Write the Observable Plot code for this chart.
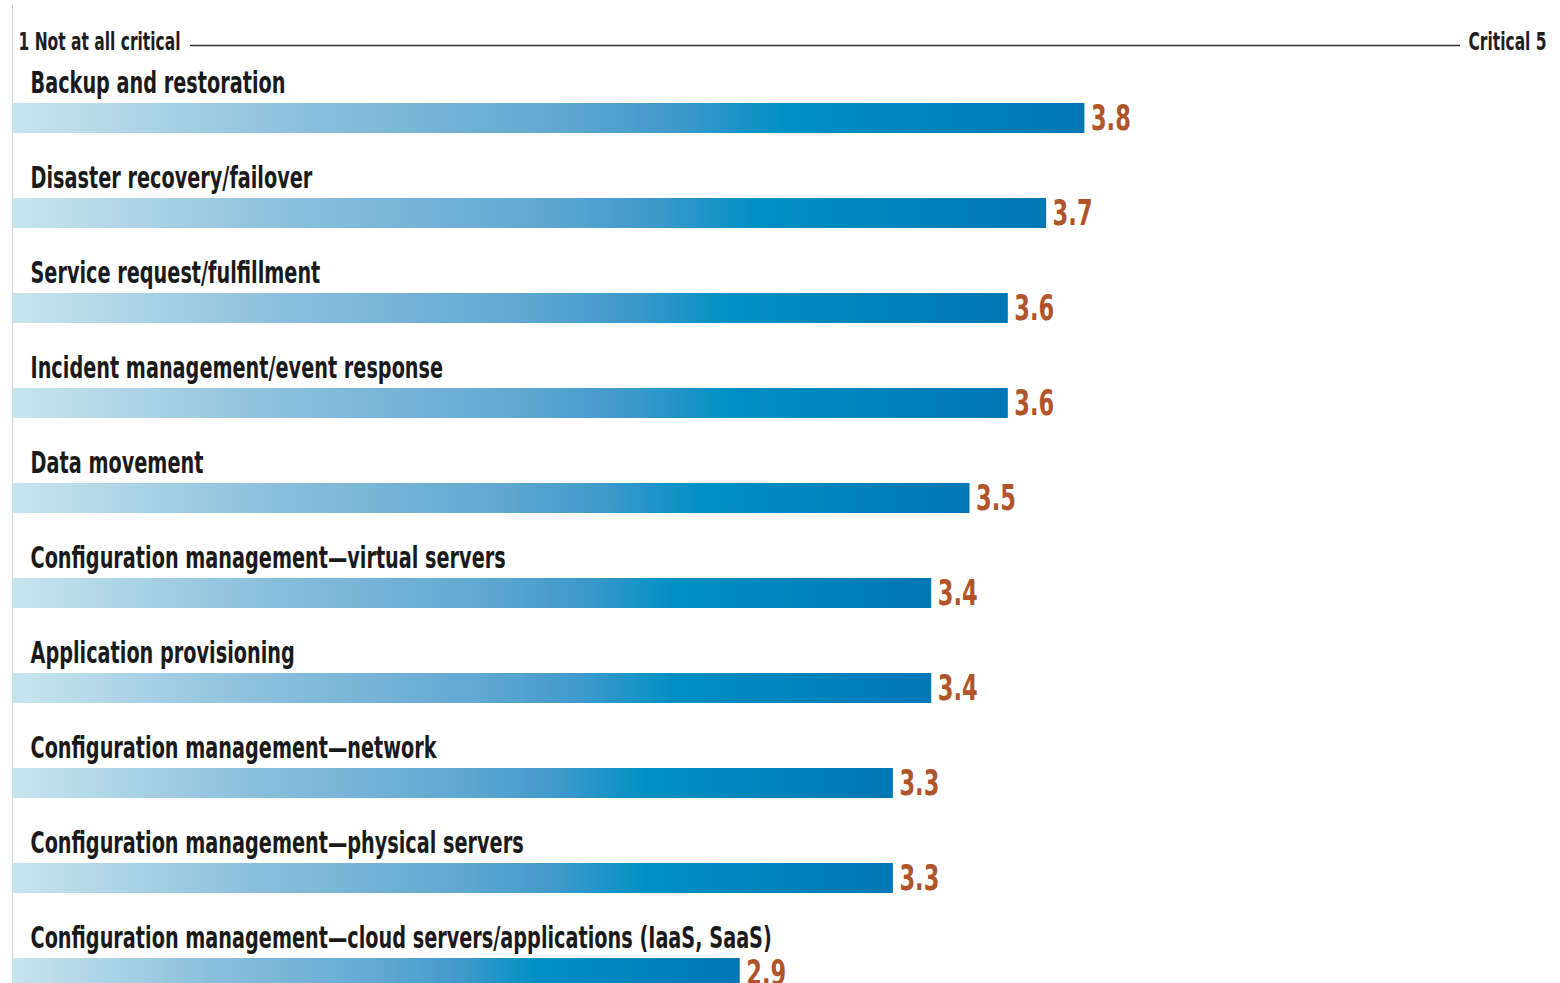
<!DOCTYPE html>
<html>
<head>
<meta charset="utf-8">
<script src="https://cdn.jsdelivr.net/npm/d3@7"></script>
<script src="https://cdn.jsdelivr.net/npm/@observablehq/plot@0.6"></script>
<style>
  html, body { margin: 0; padding: 0; background: #fff; overflow: hidden; }
  #chart svg { display: block; }
</style>
</head>
<body>
<div id="chart"></div>
<script>
const categories = [
  "Backup and restoration",
  "Disaster recovery/failover",
  "Service request/fulfillment",
  "Incident management/event response",
  "Data movement",
  "Configuration management\u2014virtual servers",
  "Application provisioning",
  "Configuration management\u2014network",
  "Configuration management\u2014physical servers",
  "Configuration management\u2014cloud servers/applications (IaaS, SaaS)"
];
const values = [3.8, 3.7, 3.6, 3.6, 3.5, 3.4, 3.4, 3.3, 3.3, 2.9];
const scaleMin = 1;
const scaleMax = 5;
const scaleLabels = ["1 Not at all critical", "Critical 5"];

const data = categories.map((c, i) => ({category: c, value: values[i]}));
const FONT = "'DejaVu Sans', sans-serif";
const W = 1560;

const startEnd = [{x: scaleMin, label: scaleLabels[0]}];
const finishEnd = [{x: scaleMax, label: scaleLabels[1]}];

const header = Plot.plot({
  width: W,
  height: 55,
  marginLeft: 12, marginRight: 16, marginTop: 0, marginBottom: 0,
  x: {domain: [scaleMin, scaleMax], axis: null},
  y: {domain: [0, 1], axis: null},
  style: {fontFamily: FONT, background: "white"},
  marks: [
    Plot.ruleX([scaleMin], {stroke: "#d0d0d0", strokeWidth: 1, insetTop: 5}),
    Plot.ruleY([0.18], {x1: scaleMin, x2: scaleMax, stroke: "#333", strokeWidth: 1.5, insetLeft: 178, insetRight: 84}),
    Plot.text(startEnd, {x: "x", y: 0.18, text: "label", textAnchor: "start", dx: 6, dy: -3, fontSize: 24, fontWeight: "bold", fill: "#1e1e1e"}),
    Plot.text(finishEnd, {x: "x", y: 0.18, text: "label", textAnchor: "end", dx: 2, dy: -3, fontSize: 24, fontWeight: "bold", fill: "#1e1e1e"})
  ]
});

const gradientDefs = () => {
  const defs = d3.create("svg:defs");
  const g = defs.append("linearGradient").attr("id", "barGrad").attr("x1", "0").attr("x2", "1").attr("y1", "0").attr("y2", "0");
  [[0, "#c8e5ee"], [0.27, "#8bc0dc"], [0.5, "#63a9d2"], [0.62, "#3f99cb"], [0.72, "#0190c4"], [1, "#0077b5"]]
    .forEach(([o, c]) => g.append("stop").attr("offset", o).attr("stop-color", c));
  return defs.node();
};

const main = Plot.plot({
  width: W,
  height: 928,
  marginLeft: 12, marginRight: 16, marginTop: 0, marginBottom: 0,
  x: {domain: [scaleMin, scaleMax], axis: null},
  y: {domain: categories, range: [0, 950], padding: 0, axis: null},
  style: {fontFamily: FONT, background: "white"},
  marks: [
    gradientDefs,
    Plot.ruleX([scaleMin], {stroke: "#d0d0d0", strokeWidth: 1}),
    Plot.barX(data, {y: "category", x1: scaleMin, x2: "value", fill: "url(#barGrad)", insetTop: 48, insetBottom: 17}),
    Plot.text(data, {y: "category", x: scaleMin, text: "category", textAnchor: "start", dx: 18, dy: -20, fontSize: 31, fontWeight: "bold", fill: "#1a1a1a"}),
    Plot.text(data, {y: "category", x: "value", text: d => d.value.toFixed(1), textAnchor: "start", dx: 6, dy: 16, fontSize: 35, fontWeight: "bold", fill: "#b0552a"})
  ]
});

document.getElementById("chart").append(header, main);

// Condense each text group so its first string has the width it has in the original condensed typeface
function condense(root, groupIndex, targetWidth) {
  const groups = root.querySelectorAll('g[aria-label="text"]');
  const g = groups[groupIndex];
  if (!g) return;
  const texts = Array.from(g.querySelectorAll("text"));
  if (!texts.length) return;
  const w0 = texts[0].getComputedTextLength();
  if (!w0) return;
  const k = targetWidth / w0;
  texts.forEach(t => {
    const w = t.getComputedTextLength();
    t.setAttribute("textLength", (w * k).toFixed(1));
    t.setAttribute("lengthAdjust", "spacingAndGlyphs");
  });
}
condense(header, 0, 162);
condense(header, 1, 78);
condense(main, 0, 255);
condense(main, 1, 40);
</script>
</body>
</html>
